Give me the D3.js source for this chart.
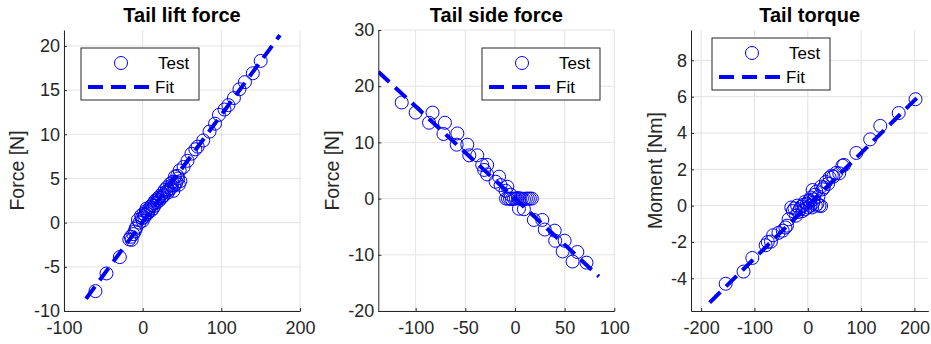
<!DOCTYPE html>
<html>
<head>
<meta charset="utf-8">
<script src="https://cdn.jsdelivr.net/npm/d3@7"></script>
<style>
  body { margin: 0; background: #fff; }
  svg { display: block; font-family: "Liberation Sans", Arial, sans-serif; }
</style>
</head>
<body>
<svg width="931" height="344"></svg>
<script>
// --- data ---
const liftX = [-60, -46, -29, -17, -15, -14, -12, -10, -9, -8, -6, -4, -2, -1, 0, 1, 2, 3, 4, 5, 6, 7, 8, 10, 11, 12, 13, 14, 15, 16, 18, 19, 20, 21, 22, 24, 25, 26, 27, 28, 30, 31, 32, 33, 35, 36, 37, 38, 39, 40, 41, 42, 43, 44, 45, 46, 47, 48, 52, 57, 62, 67, 70, 77, 85, 92, 97, 104, 109, 116, 123, 130, 140, 150];
const liftY = [-7.75, -5.75, -3.9, -1.9, -1.6, -1.95, -1.3, -1.0, -0.7, -0.5, 0.3, 0.0, 0.8, 0.5, 0.2, 1.0, 0.6, 0.9, 1.3, 1.6, 1.0, 1.2, 1.5, 1.8, 1.4, 2.0, 1.6, 2.2, 1.9, 2.5, 2.3, 2.6, 2.8, 2.5, 3.0, 2.8, 3.3, 3.0, 3.1, 3.7, 3.5, 4.0, 3.4, 3.7, 4.4, 3.9, 4.2, 4.6, 3.6, 4.2, 5.2, 4.4, 4.6, 5.3, 5.0, 4.3, 5.9, 4.7, 6.3, 7.0, 7.8, 8.3, 8.6, 9.3, 10.3, 11.2, 12.2, 12.8, 13.3, 14.1, 15.1, 15.9, 16.9, 18.3];

const sideX = [-114, -100, -83, -86.5, -70.5, -72, -58, -58.7, -48, -46, -38, -33, -28, -31, -28, -16, -19.5, -14.5, -7.7, -9.4, -4.6, -9, -7, -5, -3, -1, 1, 3, 5, 7, 9, 11, 13, 15, 17, 4, 9, 19, 27.5, 30, 40, 40.5, 50, 48, 62.8, 58, 72];
const sideY = [17.1, 15.3, 15.3, 13.5, 13.5, 11.5, 11.6, 9.6, 9.6, 7.7, 7.7, 6.0, 6.0, 5.1, 4.3, 3.9, 3.0, 2.4, 2.1, 1.4, 0.7, 0, 0, 0, -0.1, 0, 0, 0.1, 0, 0, -0.1, 0, 0, 0, 0, -1.8, -1.9, -3.8, -3.8, -5.5, -5.7, -7.5, -7.5, -9.4, -9.5, -11.2, -11.4];

const torqueX = [-154, -120.5, -104, -79, -75, -69, -65, -55, -47, -42, -39, -36, -28, -22, -25, -31, -20, -18, -15, -12, -10, -8, -6, -5, -2, 0, 2, 3, 5, 6, 8, 10, 11, 13, 15, 18, 20, 22, 25, 9, 16, 25, 28, 30, 34, 38, 41, 45, 48, 53, 59, 65, 68, 91, 117, 136, 170.5, 202];
const torqueY = [-4.3, -3.63, -2.88, -2.18, -2.0, -1.98, -1.63, -1.5, -1.38, -1.2, -1.1, -0.75, -0.3, -0.55, -0.15, -0.1, 0.0, -0.35, -0.2, -0.05, -0.3, 0.05, 0.2, -0.2, 0.1, -0.1, 0.25, 0.3, 0.0, 0.45, -0.1, 0.15, 0.35, 0.6, 0.0, 0.1, 0.5, 0.0, -0.02, 0.86, 0.77, 1.05, 0.9, 1.0, 1.3, 1.2, 1.55, 1.65, 1.6, 1.8, 1.78, 2.2, 2.24, 2.9, 3.65, 4.39, 5.1, 5.86];

// fit lines: [slope, intercept], x extent
const liftFit = [0.121, 0.1], liftFitX = [-72, 174.5];
const sideFit = [-0.164, 0.0], sideFitX = [-137.6, 84.5];
const torqueFit = [0.029, 0.0], torqueFitX = [-184, 215];

// axes limits and ticks
const liftXDomain = [-100, 200], liftYDomain = [-10, 21.8];
const sideXDomain = [-137.6, 100], sideYDomain = [-20, 30];
const torqueXDomain = [-219, 226], torqueYDomain = [-5.8, 9.67];
const liftXTicks = [-100, 0, 100, 200], liftYTicks = [-10, -5, 0, 5, 10, 15, 20];
const sideXTicks = [-100, -50, 0, 50, 100], sideYTicks = [-20, -10, 0, 10, 20, 30];
const torqueXTicks = [-200, -100, 0, 100, 200], torqueYTicks = [-4, -2, 0, 2, 4, 6, 8];

const titles = ['Tail lift force', 'Tail side force', 'Tail torque'];
const yLabels = ['Force [N]', 'Force [N]', 'Moment [Nm]'];
const legendLabels = ['Test', 'Fit'];

const blue = '#0000ff';
const axisColor = '#262626';
const gridColor = '#e3e3e3';
const plotTop = 30, plotBottom = 311;

const panels = [
  { left: 64, right: 300, xs: liftX, ys: liftY, fit: liftFit, fitX: liftFitX,
    xd: liftXDomain, yd: liftYDomain, xt: liftXTicks, yt: liftYTicks, labX: 24, leg: [81, 48] },
  { left: 378.3, right: 614.3, xs: sideX, ys: sideY, fit: sideFit, fitX: sideFitX,
    xd: sideXDomain, yd: sideYDomain, xt: sideXTicks, yt: sideYTicks, labX: 339, leg: [482, 48] },
  { left: 691, right: 928.3, xs: torqueX, ys: torqueY, fit: torqueFit, fitX: torqueFitX,
    xd: torqueXDomain, yd: torqueYDomain, xt: torqueXTicks, yt: torqueYTicks, labX: 662, leg: [712, 38] }
];

const svg = d3.select('svg');

panels.forEach((p, i) => {
  const x = d3.scaleLinear().domain(p.xd).range([p.left, p.right]);
  const y = d3.scaleLinear().domain(p.yd).range([plotBottom, plotTop]);
  const g = svg.append('g');

  // grid
  g.append('g').selectAll('line').data(p.xt).join('line')
    .attr('x1', d => x(d)).attr('x2', d => x(d))
    .attr('y1', plotTop).attr('y2', plotBottom)
    .attr('stroke', gridColor);
  g.append('g').selectAll('line').data(p.yt).join('line')
    .attr('x1', p.left).attr('x2', p.right)
    .attr('y1', d => y(d)).attr('y2', d => y(d))
    .attr('stroke', gridColor);

  const clipId = 'clip' + i;
  svg.append('clipPath').attr('id', clipId).append('rect')
    .attr('x', p.left).attr('y', plotTop)
    .attr('width', p.right - p.left).attr('height', plotBottom - plotTop);

  // fit line
  const fitPts = p.fitX.map(v => [v, p.fit[0] * v + p.fit[1]]);
  g.append('path')
    .attr('clip-path', `url(#${clipId})`)
    .attr('d', d3.line().x(d => x(d[0])).y(d => y(d[1]))(fitPts))
    .attr('fill', 'none').attr('stroke', blue)
    .attr('stroke-width', 4).attr('stroke-dasharray', '15,8');

  // test points
  g.append('g').attr('clip-path', `url(#${clipId})`)
    .selectAll('circle').data(p.xs.map((v, k) => [v, p.ys[k]])).join('circle')
    .attr('cx', d => x(d[0])).attr('cy', d => y(d[1])).attr('r', 6.5)
    .attr('fill', 'none').attr('stroke', blue).attr('stroke-width', 1);

  // axes
  const xa = g.append('g').attr('transform', `translate(0,${plotBottom})`)
    .call(d3.axisBottom(x).tickValues(p.xt).tickFormat(d => String(d))
      .tickSizeInner(-3).tickSizeOuter(0).tickPadding(10));
  const ya = g.append('g').attr('transform', `translate(${p.left},0)`)
    .call(d3.axisLeft(y).tickValues(p.yt).tickFormat(d => String(d))
      .tickSizeInner(-3).tickSizeOuter(0).tickPadding(4));
  [xa, ya].forEach(a => {
    a.select('.domain').attr('stroke', axisColor);
    a.selectAll('line').attr('stroke', axisColor);
    a.selectAll('text').attr('fill', axisColor)
      .style('font-family', '"Liberation Sans", Arial, sans-serif');
  });
  xa.selectAll('text').style('font-size', '18px');
  ya.selectAll('text').style('font-size', '18px');

  // title and label
  g.append('text').attr('x', (p.left + p.right) / 2).attr('y', 22)
    .attr('text-anchor', 'middle').style('font-size', '20px').style('font-weight', 'bold')
    .text(titles[i]);
  g.append('text').attr('transform', `translate(${p.labX},${(plotTop + plotBottom) / 2}) rotate(-90)`)
    .attr('text-anchor', 'middle').attr('fill', axisColor).style('font-size', '19.5px')
    .text(yLabels[i]);

  // legend
  const lg = g.append('g').attr('transform', `translate(${p.leg[0]},${p.leg[1]})`);
  lg.append('rect').attr('width', 118).attr('height', 52)
    .attr('fill', '#fff').attr('stroke', axisColor);
  lg.append('circle').attr('cx', 40).attr('cy', 15).attr('r', 6.5)
    .attr('fill', 'none').attr('stroke', blue);
  lg.append('line').attr('x1', 7).attr('x2', 73).attr('y1', 39).attr('y2', 39)
    .attr('stroke', blue).attr('stroke-width', 4).attr('stroke-dasharray', '15,8');
  lg.append('text').attr('x', 77).attr('y', 21).style('font-size', '17px').text(legendLabels[0]);
  lg.append('text').attr('x', 74).attr('y', 45).style('font-size', '17px').text(legendLabels[1]);
});
</script>
</body>
</html>
